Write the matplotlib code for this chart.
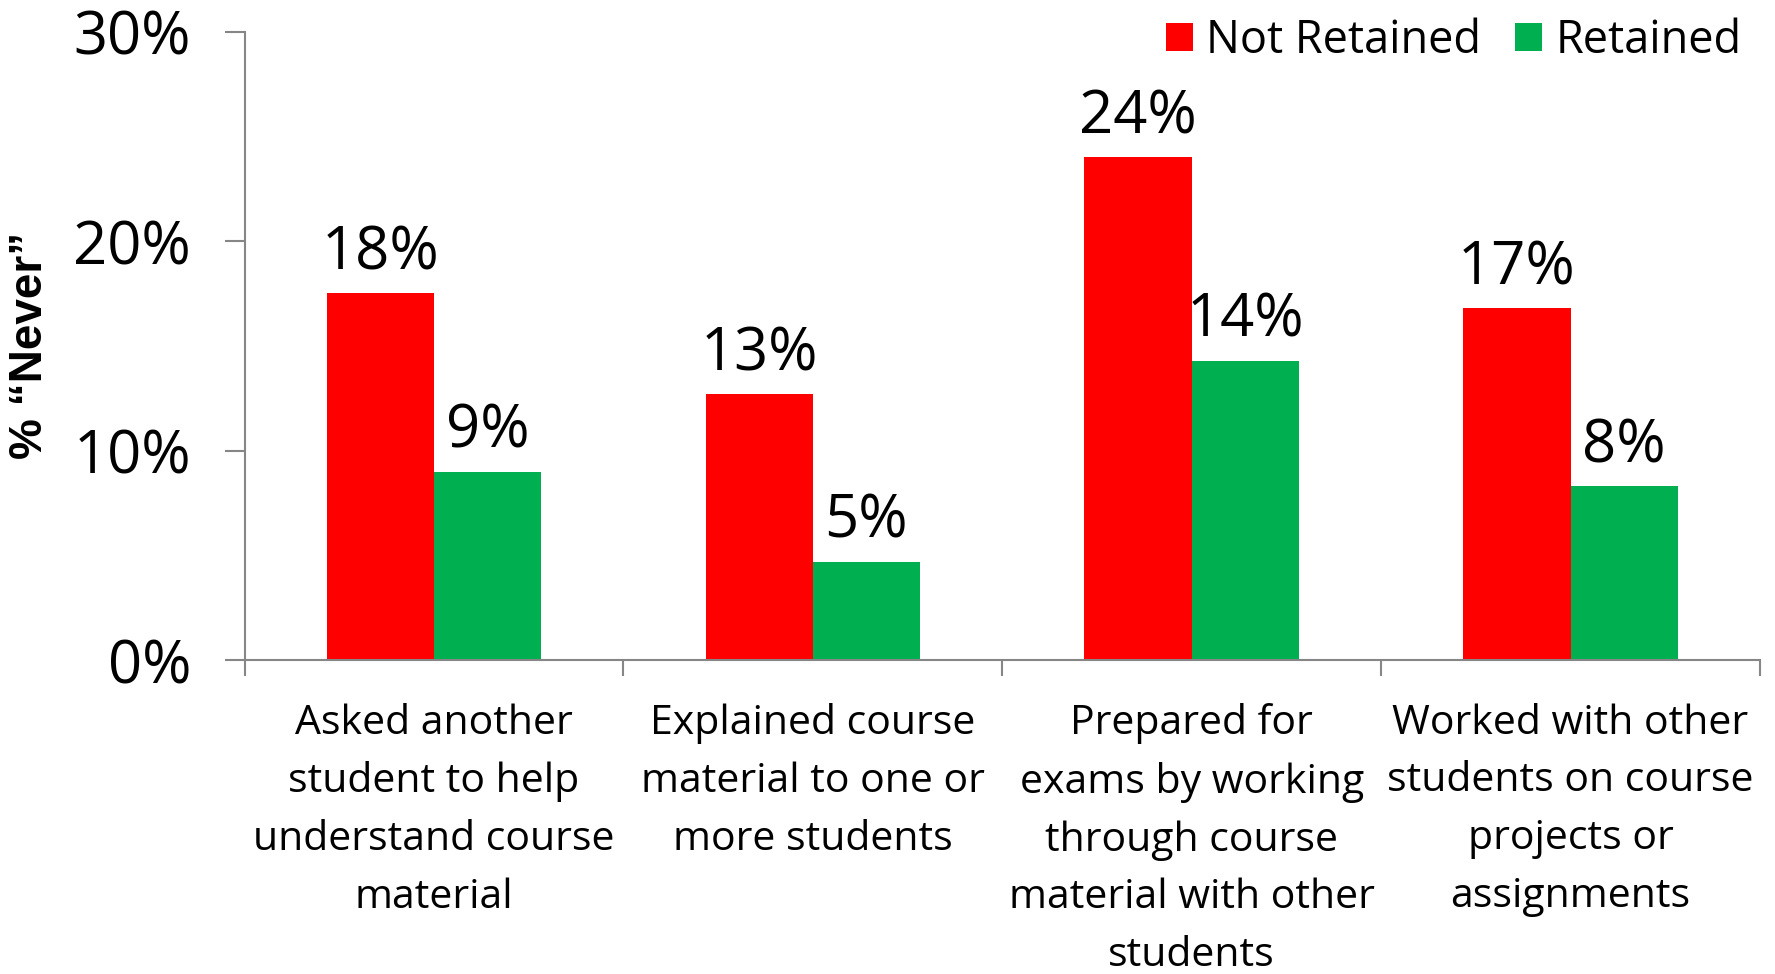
import matplotlib
matplotlib.use("Agg")
import matplotlib.pyplot as plt
from matplotlib.patches import Patch
import matplotlib.transforms as mtransforms

categories = [
    "Asked another\nstudent to help\nunderstand course\nmaterial",
    "Explained course\nmaterial to one or\nmore students",
    "Prepared for\nexams by working\nthrough course\nmaterial with other\nstudents",
    "Worked with other\nstudents on course\nprojects or\nassignments",
]
not_retained = [17.5, 12.7, 24.0, 16.8]
retained = [9.0, 4.7, 14.3, 8.3]
series_names = ["Not Retained", "Retained"]
yticks = [0, 10, 20, 30]
ytick_labels = ["0%", "10%", "20%", "30%"]

RED = "#FF0000"
GREEN = "#00B050"
GRAY = "#868686"
FONT = "Open Sans"

fig = plt.figure(figsize=(17.75, 9.74), dpi=100)
ax = fig.add_axes([244.5 / 1775, 1 - 660 / 974, (1760 - 244.5) / 1775, (660 - 31.7) / 974])

n = len(categories)
centers = [i + 0.5 for i in range(n)]
bw = 0.283
ax.bar([c - bw / 2 for c in centers], not_retained, width=bw, color=RED, label=series_names[0])
ax.bar([c + bw / 2 for c in centers], retained, width=bw, color=GREEN, label=series_names[1])

for c, v in zip(centers, not_retained):
    ax.annotate(f"{v:.0f}%", (c - bw / 2, v), xytext=(0, 7), textcoords="offset points",
                ha="center", va="bottom", fontsize=43, family=FONT)
for c, v in zip(centers, retained):
    ax.annotate(f"{v:.0f}%", (c + bw / 2, v), xytext=(0, 7), textcoords="offset points",
                ha="center", va="bottom", fontsize=43, family=FONT)

ax.set_xlim(0, n)
ax.set_ylim(0, 30)
ax.set_yticks(yticks)
ax.set_yticklabels(ytick_labels, family=FONT, fontsize=43)
ax.tick_params(axis="y", length=14.4, width=1.5, color=GRAY, pad=24)
ax.set_xticks(range(n + 1))
ax.set_xticklabels([])
ax.tick_params(axis="x", length=11.5, width=1.5, color=GRAY)

trans = mtransforms.blended_transform_factory(ax.transData, ax.transAxes)
for c, lab in zip(centers, categories):
    t = ax.text(c, 0, lab, transform=trans, ha="center", va="top", fontsize=29.5,
                family=FONT, linespacing=1.57, multialignment="center")
    t.set_transform(trans + mtransforms.ScaledTranslation(0, -31 / 72, fig.dpi_scale_trans))

for s in ["top", "right"]:
    ax.spines[s].set_visible(False)
for s in ["left", "bottom"]:
    ax.spines[s].set_color(GRAY)
    ax.spines[s].set_linewidth(1.5)

fig.text(30 / 1775, 1 - 345 / 974, "% \u201cNever\u201d", rotation=90, ha="center", va="center",
         fontsize=33, fontweight="bold", family="Liberation Sans")

handles = [Patch(facecolor=RED), Patch(facecolor=GREEN)]
leg = ax.legend(handles, series_names, loc="upper right", bbox_to_anchor=(1742 / 1775, 1 - 18 / 974),
                bbox_transform=fig.transFigure, ncol=2, frameon=False,
                prop={"family": FONT, "size": 32.5}, handlelength=0.6, handleheight=0.6,
                handletextpad=0.3, columnspacing=0.75, borderaxespad=0, borderpad=0)

fig.savefig("out.png", dpi=100)
